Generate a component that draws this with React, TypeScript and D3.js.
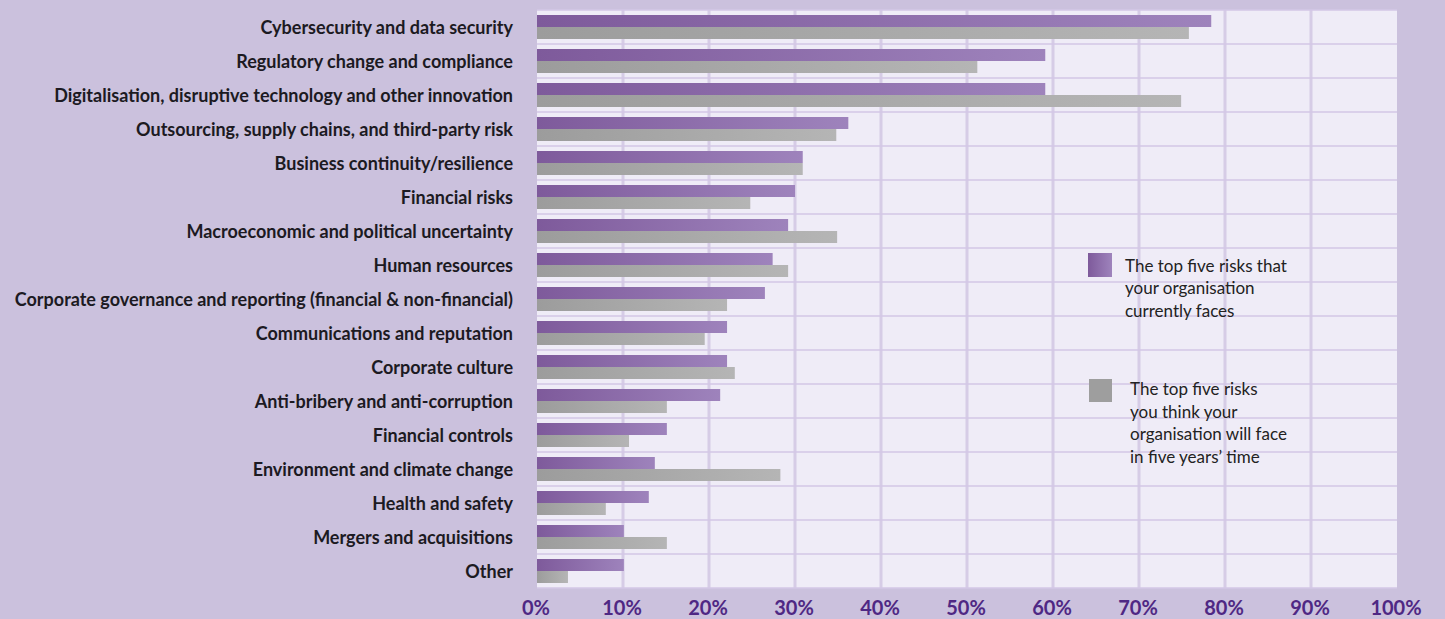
import React from "react";
import * as d3 from "d3";

const categories = [
  "Cybersecurity and data security",
  "Regulatory change and compliance",
  "Digitalisation, disruptive technology and other innovation",
  "Outsourcing, supply chains, and third-party risk",
  "Business continuity/resilience",
  "Financial risks",
  "Macroeconomic and political uncertainty",
  "Human resources",
  "Corporate governance and reporting (financial & non-financial)",
  "Communications and reputation",
  "Corporate culture",
  "Anti-bribery and anti-corruption",
  "Financial controls",
  "Environment and climate change",
  "Health and safety",
  "Mergers and acquisitions",
  "Other",
];

const currentValues = [78.4, 59.1, 59.1, 36.2, 30.9, 30.0, 29.2, 27.4, 26.5, 22.1, 22.1, 21.3, 15.1, 13.7, 13.0, 10.1, 10.1];
const futureValues = [75.8, 51.2, 74.9, 34.8, 30.9, 24.8, 34.9, 29.2, 22.1, 19.5, 23.0, 15.1, 10.7, 28.3, 8.0, 15.1, 3.6];

const xTicks = [0, 10, 20, 30, 40, 50, 60, 70, 80, 90, 100];

const legendCurrent = ["The top five risks that", "your organisation", "currently faces"];
const legendFuture = ["The top five risks", "you think your", "organisation will face", "in five years\u2019 time"];

const W = 1445;
const H = 619;
const M = { left: 537, right: 48, top: 10, bottom: 31 };

export default function App() {
  const x = d3.scaleLinear().domain([0, 100]).range([M.left, W - M.right]);
  const y = d3
    .scaleBand<string>()
    .domain(categories)
    .range([M.top, H - M.bottom])
    .paddingInner(0)
    .paddingOuter(0);
  const bw = y.bandwidth();
  const pad = 5;
  const barH = (bw - 2 * pad) / 2;

  const labelFont = "Lato, 'Noto Sans', sans-serif";

  return (
    <svg
      width={W}
      height={H}
      style={{ position: "absolute", left: 0, top: 0, display: "block" }}
    >
      <defs>
        <linearGradient id="gPurple" x1="0" x2="1" y1="0" y2="0">
          <stop offset="0" stopColor="#7e5a9b" />
          <stop offset="1" stopColor="#9e83bc" />
        </linearGradient>
        <linearGradient id="gGrey" x1="0" x2="1" y1="0" y2="0">
          <stop offset="0" stopColor="#9c9c9c" />
          <stop offset="1" stopColor="#b5b5b5" />
        </linearGradient>
      </defs>
      <rect x={0} y={0} width={W} height={H} fill="#cbc1dd" />
      <rect
        x={x(0)}
        y={M.top}
        width={x(100) - x(0)}
        height={H - M.bottom - M.top}
        fill="#efecf7"
      />
      {/* vertical gridlines */}
      {xTicks.slice(1, -1).map((t) => (
        <line
          key={"v" + t}
          x1={x(t)}
          x2={x(t)}
          y1={M.top}
          y2={H - M.bottom}
          stroke="#d6cce6"
          strokeWidth={3}
        />
      ))}
      {/* horizontal gridlines */}
      {categories.map((c) => (
        <line
          key={"h" + c}
          x1={x(0)}
          x2={x(100)}
          y1={(y(c) as number) + bw}
          y2={(y(c) as number) + bw}
          stroke="#d3c7e6"
          strokeWidth={1.5}
        />
      ))}
      <line x1={x(0)} x2={x(100)} y1={M.top} y2={M.top} stroke="#d3c7e6" strokeWidth={1.5} />
      {/* bars */}
      {categories.map((c, i) => {
        const y0 = (y(c) as number) + pad;
        return (
          <g key={"b" + c}>
            <rect
              x={x(0)}
              y={y0}
              width={x(currentValues[i]) - x(0)}
              height={barH}
              fill="url(#gPurple)"
            />
            <rect
              x={x(0)}
              y={y0 + barH}
              width={x(futureValues[i]) - x(0)}
              height={barH}
              fill="url(#gGrey)"
            />
          </g>
        );
      })}
      {/* category labels */}
      {categories.map((c) => (
        <text
          key={"l" + c}
          x={513}
          y={(y(c) as number) + bw / 2}
          dy="0.4em"
          textAnchor="end"
          fontFamily={labelFont}
          fontWeight={700}
          fontSize={18}
          fill="#1c1a22"
        >
          {c}
        </text>
      ))}
      {/* x axis labels */}
      {xTicks.map((t) => (
        <text
          key={"t" + t}
          x={x(t) - 1}
          y={615}
          textAnchor="middle"
          fontFamily={labelFont}
          fontWeight={700}
          fontSize={20}
          fill="#4f2884"
        >
          {t + "%"}
        </text>
      ))}
      {/* legend */}
      <rect x={1088} y={253} width={24} height={24} fill="url(#gPurple)" />
      {legendCurrent.map((s, i) => (
        <text
          key={"lc" + i}
          x={1125}
          y={271.5 + i * 22.5}
          fontFamily={labelFont}
          fontSize={17}
          fill="#222"
        >
          {s}
        </text>
      ))}
      <rect x={1089} y={379} width={23} height={23} fill="#9e9e9e" />
      {legendFuture.map((s, i) => (
        <text
          key={"lf" + i}
          x={1130}
          y={395 + i * 22.5}
          fontFamily={labelFont}
          fontSize={17}
          fill="#222"
        >
          {s}
        </text>
      ))}
    </svg>
  );
}
